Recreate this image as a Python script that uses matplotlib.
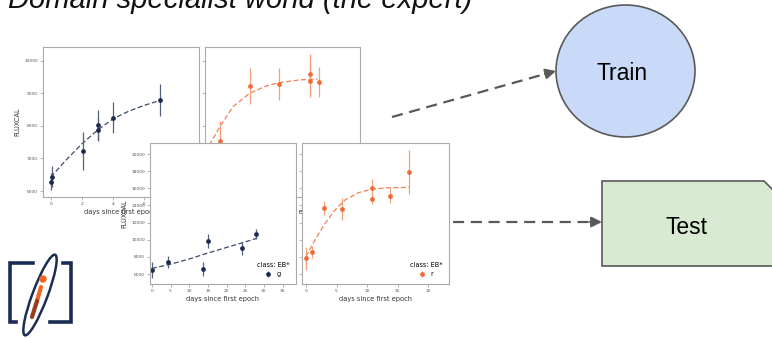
'''Slide: domain specialist light curves feeding Train / Test'''

import matplotlib
matplotlib.use("Agg")
import matplotlib.pyplot as plt
from matplotlib.patches import Ellipse, Polygon, Circle

W, H = 772, 340

# --- light curve data (days since first epoch, FLUXCAL) ---
p1_days = [0.0, 0.05, 2.05, 3.0, 3.05, 4.0, 7.0]
p1_flux = [6290, 6440, 7240, 8030, 7880, 8250, 8790]
p1_err = [250, 320, 580, 460, 350, 470, 490]
p1_fit_days = [0, 1, 2, 3, 4, 5, 6, 7]
p1_fit_flux = [6430, 6960, 7450, 7870, 8220, 8450, 8630, 8780]

p2_days = [0.46, 2.38, 4.3, 6.25, 6.25, 6.84]
p2_flux = [7540, 9230, 9290, 9590, 9370, 9350]
p2_err = [600, 545, 490, 613, 490, 450]
p2_fit_days = [-0.22, 0.46, 1.31, 2.38, 3.46, 4.31, 5.59, 6.76]
p2_fit_flux = [7410, 7975, 8590, 9000, 9225, 9325, 9410, 9440]

p3_days = [0.0, 4.2, 13.8, 14.9, 24.0, 27.9]
p3_flux = [6470, 7430, 6550, 9850, 9000, 10700]
p3_err = [900, 700, 800, 760, 740, 580]
p3_fit_days = [0, 5, 10, 15, 20, 25, 28]
p3_fit_flux = [6650, 7150, 7750, 8450, 9100, 9750, 10150]

p4_days = [0.0, 0.93, 2.94, 5.88, 10.83, 10.83, 13.8, 16.9]
p4_flux = [7830, 8530, 13700, 13580, 15990, 14780, 15130, 17930]
p4_err = [1320, 700, 850, 1300, 1100, 600, 900, 2560]
p4_fit_days = [0, 1.47, 2.94, 4.74, 6.37, 8.55, 10.83, 13.45, 16.9]
p4_fit_flux = [8020, 9960, 11710, 13460, 14630, 15480, 15910, 16060, 16110]

small_ticks = [6000, 7000, 8000, 9000, 10000]
big_ticks = [6000, 8000, 10000, 12000, 14000, 16000, 18000, 20000]

navy, navy_err = "#1a2a4f", "#56617f"
orange, orange_err = "#f06a35", "#f4a07c"


def box(x0, y0, x1, y1):
    # pixel box (top-left origin) -> figure fraction rect
    return [x0 / W, 1 - y1 / H, (x1 - x0) / W, (y1 - y0) / H]


def style(ax):
    ax.set_facecolor("white")
    for s in ax.spines.values():
        s.set_color("#aaaaaa")
        s.set_linewidth(0.8)
    ax.tick_params(length=2, width=0.5, color="#999999", labelsize=3.2,
                   labelcolor="#555555", pad=1.5)


def light_curve(ax, d, f, e, fd, ff, col, ecol, band):
    ax.plot(fd, ff, ls=(0, (4, 2)), lw=0.9, color=col, alpha=0.85)
    ax.errorbar(d, f, yerr=e, fmt="o", ms=2.4, color=col, ecolor=ecol,
                elinewidth=0.9, capsize=0, label=band)


fig = plt.figure(figsize=(W / 100, H / 100), dpi=100)

# background layer in pixel coordinates
bg = fig.add_axes([0, 0, 1, 1])
bg.set_xlim(0, W)
bg.set_ylim(H, 0)
bg.axis("off")

bg.text(8, 8, "Domain specialist world (the expert)", fontsize=21, style="italic",
        family="Liberation Sans", va="baseline", ha="left", color="#111111")

grey = "#595959"
# dashed arrows
bg.plot([392, 545], [117, 74], ls=(0, (5, 3)), lw=1.6, color=grey)
bg.annotate("", xy=(556, 71), xytext=(545, 74),
            arrowprops=dict(arrowstyle="-|>,head_length=0.6,head_width=0.3",
                            color=grey, lw=1.6, shrinkA=0, shrinkB=0))
bg.plot([453, 591], [222, 222], ls=(0, (5, 3)), lw=1.6, color=grey)
bg.annotate("", xy=(602, 222), xytext=(590, 222),
            arrowprops=dict(arrowstyle="-|>,head_length=0.6,head_width=0.3",
                            color=grey, lw=1.6, shrinkA=0, shrinkB=0))

bg.add_patch(Ellipse((625.5, 71), 139, 132, facecolor="#c9daf8", edgecolor=grey, lw=1.2))
bg.text(622, 73, "Train", fontsize=16.5, family="Liberation Sans", ha="center", va="center")
bg.add_patch(Polygon([(602, 181), (764, 181), (800, 217), (800, 266), (602, 266)],
                     closed=True, facecolor="#d9ead3", edgecolor=grey, lw=1.2))
bg.text(686, 228, "Test", fontsize=16.5, family="Liberation Sans", ha="center", va="center")

# logo
logo = "#1c2d55"
bg.plot([33, 9.5, 9.5, 16], [263, 263, 322, 322], color=logo, lw=2.6, solid_joinstyle="miter")
bg.plot([63, 70.5, 70.5, 50], [263, 263, 322, 322], color=logo, lw=2.6, solid_joinstyle="miter")
bg.add_patch(Ellipse((40, 295), 86, 15, angle=-69.4, fill=False, edgecolor=logo, lw=1.8))
bg.plot([41, 37], [287, 301], color="#f26522", lw=3.0, solid_capstyle="round")
bg.plot([37, 32], [301, 317], color="#9c3a1c", lw=3.0, solid_capstyle="round")
bg.add_patch(Circle((43, 279), 3.0, color="#f26522"))

# top-right panel (r band, earlier epochs)
ax2 = fig.add_axes(box(205, 47, 360, 197))
style(ax2)
light_curve(ax2, p2_days, p2_flux, p2_err, p2_fit_days, p2_fit_flux, orange, orange_err, "r")
ax2.set_xlim(-0.5, 9.5)
ax2.set_ylim(5816, 10420)
ax2.set_yticks(small_ticks)
ax2.set_yticklabels([])
ax2.set_xticks([0, 2, 4, 6, 8])
ax2.set_xlabel("days since first epoch", fontsize=4.8, color="#333333", labelpad=2)

# top-left panel (g band)
ax1 = fig.add_axes(box(43, 47, 199, 197))
style(ax1)
light_curve(ax1, p1_days, p1_flux, p1_err, p1_fit_days, p1_fit_flux, navy, navy_err, "g")
ax1.set_xlim(-0.5, 9.5)
ax1.set_ylim(5816, 10420)
ax1.set_yticks(small_ticks)
ax1.set_xticks([0, 2, 4, 6, 8])
ax1.set_xlabel("days since first epoch", fontsize=4.8, color="#333333", labelpad=2)
ax1.set_ylabel("FLUXCAL", fontsize=4.8, color="#333333", labelpad=3)

# bottom-left panel (g band)
ax3 = fig.add_axes(box(150, 143.3, 295.7, 284))
style(ax3)
light_curve(ax3, p3_days, p3_flux, p3_err, p3_fit_days, p3_fit_flux, navy, navy_err, "g")
ax3.set_xlim(-0.5, 38.5)
ax3.set_ylim(4834, 21250)
ax3.set_yticks(big_ticks)
ax3.set_xticks([0, 5, 10, 15, 20, 25, 30, 35])
ax3.set_xlabel("days since first epoch", fontsize=4.8, color="#333333", labelpad=2)
ax3.set_ylabel("FLUXCAL", fontsize=4.8, color="#333333", labelpad=3)
ax3.legend(title="class: EB*", loc="lower right", frameon=False, fontsize=4.7,
           title_fontsize=4.7, handlelength=1.0, borderaxespad=0.6)

# bottom-right panel (r band)
ax4 = fig.add_axes(box(302.3, 143.3, 449, 284))
style(ax4)
light_curve(ax4, p4_days, p4_flux, p4_err, p4_fit_days, p4_fit_flux, orange, orange_err, "r")
ax4.set_xlim(-0.6, 23.4)
ax4.set_ylim(4834, 21250)
ax4.set_yticks(big_ticks)
ax4.set_yticklabels([])
ax4.set_xticks([0, 5, 10, 15, 20])
ax4.set_xlabel("days since first epoch", fontsize=4.8, color="#333333", labelpad=2)
ax4.legend(title="class: EB*", loc="lower right", frameon=False, fontsize=4.7,
           title_fontsize=4.7, handlelength=1.0, borderaxespad=0.6)

fig.savefig("out.png", dpi=100)
